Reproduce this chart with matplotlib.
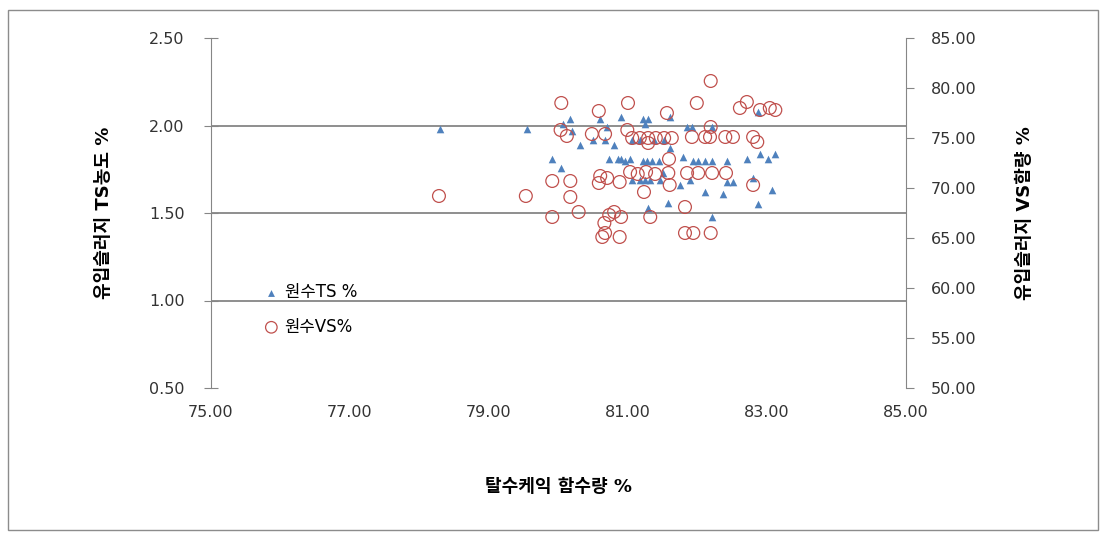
import matplotlib.pyplot as plt
from matplotlib.patches import Rectangle

plt.rcParams['font.family'] = ['DejaVu Sans', 'Noto Sans CJK KR']

# 원수 TS % (왼쪽 축)
ts_x = [78.29, 79.55, 79.91, 80.04, 80.17, 80.07, 80.20, 80.31, 80.60, 80.50,
        80.67, 80.70, 80.80, 80.73, 80.90, 80.90, 81.03, 81.22, 81.29, 81.24,
        81.27, 81.35, 81.29, 81.60, 81.60, 81.85, 81.92, 82.21, 81.79, 81.94,
        82.01, 82.11, 82.21, 82.42, 82.71, 82.90, 83.01, 83.12, 81.22, 81.24,
        81.50, 81.75, 81.89, 82.11, 82.42, 82.51, 82.80, 83.07, 82.37, 81.58,
        82.87, 82.21, 82.87, 81.06, 81.17, 81.32, 81.46, 81.06, 81.17, 81.38,
        81.52, 80.95, 81.45, 80.85]
ts_y = [1.98, 1.98, 1.81, 1.76, 2.04, 2.01, 1.97, 1.89, 2.04, 1.92,
        1.92, 1.99, 1.89, 1.81, 2.05, 1.81, 1.81, 2.04, 2.04, 2.01,
        1.80, 1.80, 1.53, 1.87, 2.05, 1.99, 1.99, 1.99, 1.82, 1.80,
        1.80, 1.80, 1.80, 1.80, 1.81, 1.84, 1.81, 1.84, 1.80, 1.69,
        1.73, 1.66, 1.69, 1.62, 1.68, 1.68, 1.70, 1.63, 1.61, 1.56,
        1.55, 1.48, 2.08, 1.69, 1.69, 1.69, 1.69, 1.92, 1.92, 1.92,
        1.92, 1.80, 1.80, 1.81]

# 원수 VS % (오른쪽 축)
vs_x = [78.28, 79.53, 79.91, 80.17, 79.91, 80.17, 80.29, 80.04, 80.03, 80.12,
        80.48, 80.67, 80.58, 81.00, 80.99, 80.58, 80.70, 80.88, 80.73, 80.80,
        80.90, 80.63, 80.67, 80.88, 81.32, 81.23, 81.29, 81.06, 81.17, 81.29,
        81.40, 81.52, 81.63, 81.03, 81.14, 81.26, 81.39, 81.58, 81.60, 81.85,
        82.01, 82.21, 82.41, 82.80, 81.59, 81.56, 81.99, 82.19, 82.71, 82.61,
        82.90, 83.04, 83.12, 82.19, 81.92, 82.11, 82.18, 82.40, 82.51, 82.80,
        82.86, 81.82, 81.82, 81.94, 82.19, 80.60, 80.66]
vs_y = [69.2, 69.2, 67.1, 69.1, 70.7, 70.7, 67.6, 78.5, 75.8, 75.2,
        75.4, 75.4, 77.7, 78.5, 75.8, 70.5, 71.0, 70.6, 67.3, 67.6,
        67.1, 65.1, 65.5, 65.1, 67.1, 69.6, 74.5, 75.0, 75.0, 75.0,
        75.0, 75.0, 75.0, 71.6, 71.4, 71.6, 71.4, 71.5, 70.3, 71.5,
        71.5, 71.5, 71.5, 70.3, 72.9, 77.5, 78.5, 80.7, 78.6, 78.0,
        77.8, 78.0, 77.8, 76.1, 75.1, 75.1, 75.1, 75.1, 75.1, 75.1,
        74.6, 68.1, 65.5, 65.5, 65.5, 71.2, 66.5]

x_ticks = [75, 77, 79, 81, 83, 85]
ts_ticks = [0.5, 1.0, 1.5, 2.0, 2.5]
vs_ticks = [50, 55, 60, 65, 70, 75, 80, 85]

fig = plt.figure(figsize=(11.08, 5.38), dpi=100)
ax = fig.add_axes([211 / 1108, 1 - 388 / 538, 695 / 1108, 350 / 538])
ax2 = ax.twinx()

# 바깥 테두리
fig.patches.append(Rectangle((8 / 1108, 8 / 538), 1090 / 1108, 520 / 538,
                             transform=fig.transFigure, fill=False,
                             edgecolor='#8c8c8c', linewidth=1))

grey = '#868686'
ax.scatter(ts_x, ts_y, marker='^', s=30, color='#4F81BD', linewidths=0,
           label='원수TS %', zorder=3)
ax2.scatter(vs_x, vs_y, marker='o', s=85, facecolors='none',
            edgecolors='#C0504D', linewidths=0.9, label='원수VS%', zorder=3)

ax.set_xlim(75, 85)
ax.set_ylim(0.5, 2.5)
ax2.set_ylim(50, 85)
ax.set_xticks(x_ticks)
ax.set_xticklabels(['%.2f' % t for t in x_ticks])
ax.set_yticks(ts_ticks)
ax.set_yticklabels(['%.2f' % t for t in ts_ticks])
ax2.set_yticks(vs_ticks)
ax2.set_yticklabels(['%.2f' % t for t in vs_ticks])

for a in (ax, ax2):
    for s in ('top', 'bottom'):
        a.spines[s].set_visible(False)
    a.spines['left'].set_color(grey)
    a.spines['right'].set_color(grey)
ax.spines['right'].set_visible(False)
ax2.spines['left'].set_visible(False)

ax.tick_params(axis='x', length=0, pad=12, labelsize=11.5, colors='#333333')
ax.tick_params(axis='y', direction='inout', length=10, color=grey,
               labelsize=11.5, labelcolor='#333333', pad=14)
ax2.tick_params(axis='y', direction='out', length=6, color=grey,
                labelsize=11.5, labelcolor='#333333', pad=12)

for t in [1.0, 1.5, 2.0]:
    ax.axhline(t, color=grey, linewidth=1.3, zorder=1)

ax.set_xlabel('탈수케익 함수량 %', fontsize=13, fontweight='bold', labelpad=42)
ax.set_ylabel('유입슬러지 TS농도 %', fontsize=13, fontweight='bold', labelpad=26)
ax2.set_ylabel('유입슬러지 VS함량 %', fontsize=13, fontweight='bold',
               rotation=90, labelpad=28)

h1, l1 = ax.get_legend_handles_labels()
h2, l2 = ax2.get_legend_handles_labels()
leg = ax2.legend(h1 + h2, l1 + l2, loc='upper left',
                 bbox_to_anchor=(248 / 1108, 1 - 268 / 538),
                 bbox_transform=fig.transFigure, frameon=False,
                 fontsize=12, handletextpad=0.3, labelspacing=1.0,
                 handlelength=1.0, markerscale=0.9)

plt.savefig('out.png', dpi=100)
